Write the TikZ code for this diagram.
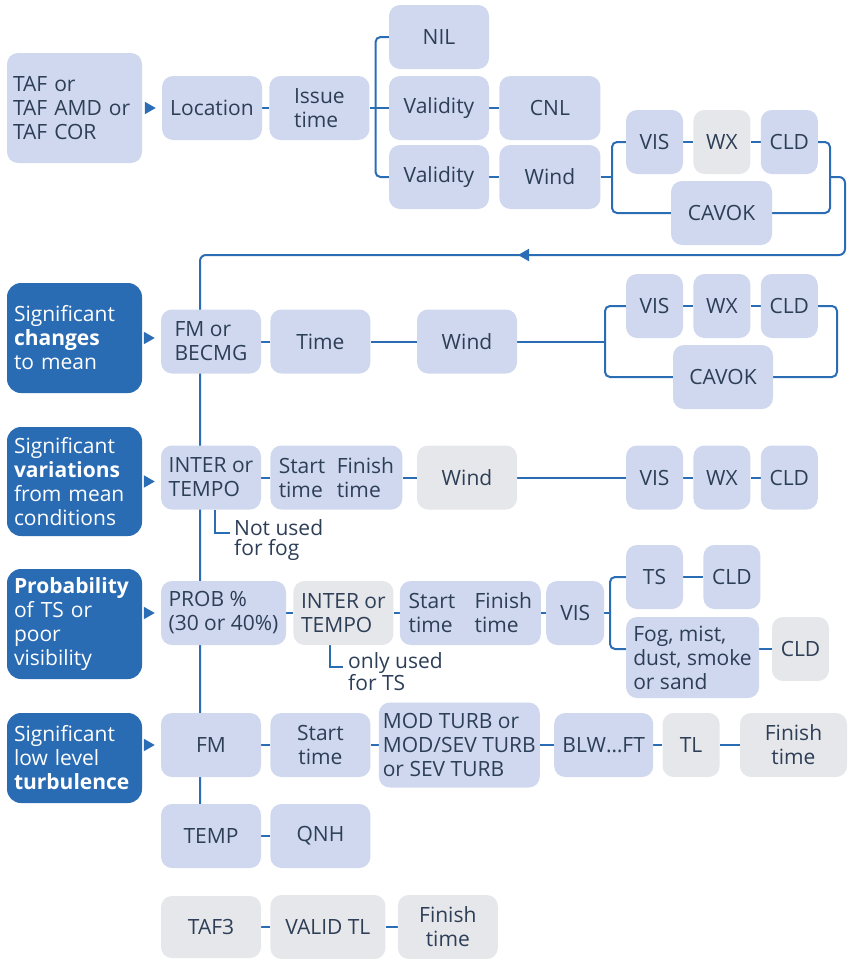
\documentclass[tikz,border=0pt]{standalone}
\usepackage{fontspec}
\setmainfont{Open Sans}
\usetikzlibrary{positioning, arrows.meta, calc, backgrounds}

\definecolor{boxblue}{HTML}{CFD8EE}
\definecolor{boxgrey}{HTML}{E6E7EA}
\definecolor{keyblue}{HTML}{2A6CB4}
\definecolor{lineblue}{HTML}{2B6DB5}
\definecolor{ink}{HTML}{2D3E57}

\begin{document}
\begin{tikzpicture}[
		x=1pt, y=-1pt,
		box/.style={rectangle, rounded corners=11pt, fill=boxblue, text=ink, align=center, inner xsep=4pt, inner ysep=2pt, minimum height=64pt, minimum width=100pt, font=\fontsize{21}{24}\selectfont},
		greybox/.style={box, fill=boxgrey},
		narrow/.style={minimum width=57pt},
		keybox/.style={rectangle, rounded corners=14pt, fill=keyblue, text=white, align=left, text width=121pt, inner xsep=7pt, minimum height=110pt, font=\fontsize{21}{24}\selectfont},
		note/.style={text=ink, align=left, inner sep=0pt, anchor=north west, font=\fontsize{21}{20}\selectfont},
		link/.style={draw=lineblue, line width=2pt},
		arr/.style={link, -{Triangle[length=11pt, width=12pt]}, shorten <=3pt, shorten >=6pt}
		]
		\useasboundingbox (0,0) rectangle (847,959);
		
		% 1. Header: TAF, location, issue time
		\node[box, align=left, text width=123pt, inner xsep=6pt, minimum height=110pt] (taf) at (74.5,108) {TAF or\\TAF AMD or\\TAF COR};
		\node[box] (loc) at (212,108) {Location};
		\node[box, align=left] (issue) [right=7pt of loc] {Issue\\time};
		
		% 2. NIL / validity branches
		\node[box] (nil) at (439,37) {NIL};
		\node[box] (val1) at (439,108) {Validity};
		\node[box] (val2) at (439,177) {Validity};
		\node[box, minimum width=101pt] (cnl) [right=10pt of val1] {CNL};
		\node[box, minimum width=101pt] (wind1) [right=10pt of val2] {Wind};
		
		% 3. VIS WX CLD or CAVOK
		\node[box, narrow] (vis1) at (654.5,142) {VIS};
		\node[greybox, narrow] (wx1) [right=10pt of vis1] {WX};
		\node[box, narrow] (cld1) [right=10pt of wx1] {CLD};
		\node[box, minimum width=101pt] (cavok1) at (721.5,213) {CAVOK};
		
		% 4. Significant changes
		\node[keybox] (sigch) at (74.5,338) {Significant\\\textbf{changes}\\to mean};
		\node[box, align=left] (fmbec) at (211,341.5) {FM or\\BECMG};
		\node[box] (time) [right=9pt of fmbec] {Time};
		\node[box] (wind2) at (467,341.5) {Wind};
		\node[box, narrow] (vis2) at (654.5,306) {VIS};
		\node[box, narrow] (wx2) [right=10pt of vis2] {WX};
		\node[box, narrow] (cld2) [right=10pt of wx2] {CLD};
		\node[box] (cavok2) at (723,377) {CAVOK};
		
		% 5. Significant variations
		\node[keybox, minimum height=109pt] (sigvar) at (74.5,481.5) {Significant\\\textbf{variations}\\from mean\\conditions};
		\node[box, align=left] (inter1) at (211,477.5) {INTER or\\TEMPO};
		\node[box, align=left, minimum width=132pt] (sf1) [right=9pt of inter1] {\makebox[58pt][l]{Start}Finish\\\makebox[58pt][l]{time}time};
		\node[greybox] (wind3) at (467,477.5) {Wind};
		\node[box, narrow] (vis3) at (654.5,477.5) {VIS};
		\node[box, narrow] (wx3) [right=10pt of vis3] {WX};
		\node[box, narrow] (cld3) [right=10pt of wx3] {CLD};
		\node[note] (note1) at (234,519) {Not used\\for fog};
		\coordinate (n1) at (230,533);
		
		% 6. Probability
		\node[keybox] (prob) at (74.5,624) {\textbf{Probability}\\of TS or\\poor\\visibility};
		\node[box, align=left, minimum width=125pt] (pct) at (223.5,613) {PROB \%\\(30 or 40\%)};
		\node[greybox, align=left] (inter2) [right=7pt of pct] {INTER or\\TEMPO};
		\node[box, align=left, minimum width=141pt] (sf2) [right=6pt of inter2] {\makebox[66pt][l]{Start}Finish\\\makebox[66pt][l]{time}time};
		\node[box, minimum width=58pt] (vis4) [right=5pt of sf2] {VIS};
		\node[box, narrow] (ts) at (654.5,577) {TS};
		\node[box, narrow] (cld4) [right=20pt of ts] {CLD};
		\node[box, align=left, minimum width=133pt, minimum height=81pt] (fog) at (692.5,657.5) {Fog, mist,\\dust, smoke\\or sand};
		\node[greybox, narrow] (cld5) at (800.5,649) {CLD};
		\node[note] (note2) at (348,652) {only used\\for TS};
		\coordinate (n2) at (343,667);
		
		% 7. Low level turbulence
		\node[keybox, minimum height=90pt] (turb) at (74.5,758) {Significant\\low level\\\textbf{turbulence}};
		\node[box] (fm) at (211,745) {FM};
		\node[box] (start) [right=9pt of fm] {Start\\time};
		\node[box, align=left, minimum width=161pt, minimum height=85pt] (modturb) [right=8pt of start] {MOD TURB or\\MOD/SEV TURB\\or SEV TURB};
		\node[box, minimum width=99pt] (blw) [right=14pt of modturb] {BLW…FT};
		\node[greybox, narrow] (tl) [right=9pt of blw] {TL};
		\node[greybox, minimum width=107pt] (fin1) [right=20pt of tl] {Finish\\time};
		
		% 8. Temperature, QNH, TAF3
		\node[box] (temp) at (211,836) {TEMP};
		\node[box] (qnh) [right=9pt of temp] {QNH};
		\node[greybox, minimum height=62pt] (taf3) at (211,927) {TAF3};
		\node[greybox, minimum width=115pt] (valid) [right=9pt of taf3] {VALID TL};
		\node[greybox] (fin2) [right=12pt of valid] {Finish\\time};
		
		% bracket spines and the loop back
		\coordinate (br0) at (375.5,108);
		\coordinate (br1) at (612,177);
		\coordinate (br1r) at (830,177);
		\coordinate (br2) at (605,341.5);
		\coordinate (br2r) at (837,341.5);
		\coordinate (br3) at (610,613);
		\coordinate (turnR) at (845,255);
		\coordinate (turnL) at (200,255);
		\coordinate (loopMid) at (518,255);
		\coordinate (spine) at (200,820);
		
		\begin{scope}[on background layer]
			% header connectors
			\draw[arr] (taf) -- (loc);
			\draw[link] (loc) -- (issue);
			\draw[link] (issue) -- (val1);
			\draw[link, rounded corners=5pt] (nil) -| (br0) |- (val2);
			\draw[link] (val1) -- (cnl);
			\draw[link] (val2) -- (wind1);
			\draw[link] (wind1) -- (br1);
			\draw[link, rounded corners=5pt] (vis1) -| (br1) |- (cavok1);
			\draw[link] (vis1) -- (wx1);
			\draw[link] (wx1) -- (cld1);
			\draw[link, rounded corners=5pt] (cld1) -| (br1r) |- (cavok1);
			\draw[link, rounded corners=6pt] (br1r) -| (turnR) -- (turnL) -- (spine);
			\draw[link, -{Triangle[length=11pt, width=12pt]}] ([xshift=20pt]loopMid) -- (loopMid);
			
			% changes
			\draw[arr] (sigch.east) -- (sigch.east -| fmbec.west);
			\draw[link] (fmbec) -- (time);
			\draw[link] (time) -- (wind2);
			\draw[link] (wind2) -- (br2);
			\draw[link, rounded corners=5pt] (vis2) -| (br2) |- (cavok2);
			\draw[link] (vis2) -- (wx2);
			\draw[link] (wx2) -- (cld2);
			\draw[link, rounded corners=5pt] (cld2) -| (br2r) |- (cavok2);
			
			% variations
			\draw[arr] (sigvar.east) -- (sigvar.east -| inter1.west);
			\draw[link] (inter1) -- (sf1);
			\draw[link] (sf1) -- (wind3);
			\draw[link] (wind3) -- (vis3);
			\draw[link] (vis3) -- (wx3);
			\draw[link] (wx3) -- (cld3);
			\draw[link] ($(inter1.south)+(4,0)$) |- (n1);
			
			% probability
			\draw[arr] (prob.east |- pct) -- (pct);
			\draw[link] (pct) -- (inter2);
			\draw[link] (inter2) -- (sf2);
			\draw[link] (sf2) -- (vis4);
			\draw[link] (vis4) -- (br3);
			\draw[link, rounded corners=5pt] (ts) -| (br3) |- (fog.west |- cld5);
			\draw[link] (ts) -- (cld4);
			\draw[link] (fog.east |- cld5) -- (cld5);
			\draw[link] ($(inter2.south)+(-13.5,0)$) |- (n2);
			
			% turbulence
			\draw[arr] (turb.east |- fm) -- (fm);
			\draw[link] (fm) -- (start);
			\draw[link] (start) -- (modturb);
			\draw[link] (modturb) -- (blw);
			\draw[link] (blw) -- (tl);
			\draw[link] (tl) -- (fin1);
			
			% bottom rows
			\draw[link] (temp) -- (qnh);
			\draw[link] (taf3) -- (valid);
			\draw[link] (valid) -- (fin2);
		\end{scope}
		
	\end{tikzpicture}
\end{document}
